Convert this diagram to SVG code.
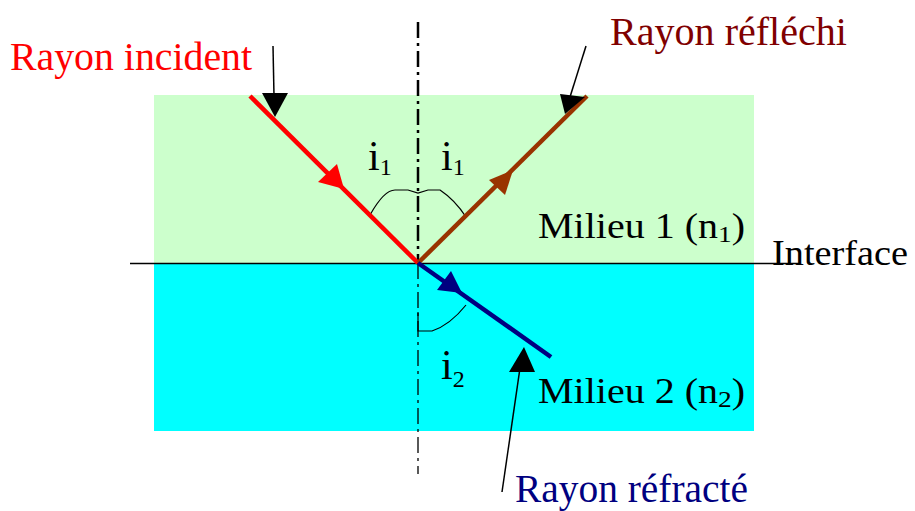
<svg xmlns="http://www.w3.org/2000/svg" width="915" height="511" viewBox="0 0 915 511">
<style>
text{font-family:"Liberation Serif","Times New Roman",serif;}
.lbl{font-size:35px;}
.ray{font-size:39px;}
.ang{font-size:42px;fill:#000;}
.sub{font-size:24px;}
.ptr{stroke:#000;stroke-width:1.5;fill:none;}
.arc{stroke:#000;stroke-width:1.2;fill:none;}
</style>
<rect width="915" height="511" fill="#fff"/>
<g id="milieu1"><rect x="154" y="95" width="600" height="168" fill="#CCFFCC"/>
<text x="538" y="238" class="lbl" textLength="207" lengthAdjust="spacingAndGlyphs">Milieu 1 (n<tspan class="sub" dy="4">1</tspan><tspan dy="-4">)</tspan></text></g>
<g id="milieu2"><rect x="154" y="264" width="600" height="167" fill="#00FFFF"/>
<text x="538" y="403" class="lbl" textLength="207" lengthAdjust="spacingAndGlyphs">Milieu 2 (n<tspan class="sub" dy="4">2</tspan><tspan dy="-4">)</tspan></text></g>
<g id="interface"><line x1="130" y1="263.5" x2="800" y2="263.5" stroke="#000" stroke-width="1.5"/>
<text x="772" y="265" class="lbl" textLength="136" lengthAdjust="spacingAndGlyphs">Interface</text></g>
<g id="normale">
<line x1="418" y1="22" x2="418" y2="263" stroke="#000" stroke-width="2.5" stroke-dasharray="16,5,3,5"/>
<line x1="418" y1="263" x2="418" y2="474" stroke="#000" stroke-width="1.3" stroke-dasharray="16,5,3,5"/>
</g>
<g id="angles">
<path class="arc" d="M370,215 Q384,190 395,190 L408,190 L418,193 L428,190 L440,190 Q455,200 466,217"/>
<path class="arc" d="M418,312 L418,331 L432,331 Q450,325 466,305"/>
<text x="368" y="170" class="ang">i<tspan class="sub" dy="5">1</tspan></text>
<text x="441" y="170" class="ang">i<tspan class="sub" dy="5">1</tspan></text>
<text x="441" y="379" class="ang">i<tspan class="sub" dy="8">2</tspan></text>
</g>
<g id="connectors">
<g id="rayon-incident-ray">
<line x1="250" y1="96" x2="418" y2="263" stroke="#FF0000" stroke-width="4.5"/>
<polygon points="344,189 318,182 337,164" fill="#FF0000"/>
</g>
<g id="rayon-reflechi-ray">
<line x1="418" y1="263" x2="587" y2="96" stroke="#993300" stroke-width="4.5"/>
<polygon points="513,170 489,180 505,195" fill="#993300"/>
</g>
<g id="rayon-refracte-ray">
<line x1="418" y1="263" x2="551" y2="357" stroke="#000080" stroke-width="4.5"/>
<polygon points="462,293 437,290 451,271" fill="#000080"/>
</g>
<g id="pointers">
<line class="ptr" x1="273" y1="46" x2="274" y2="96"/>
<polygon points="275,117 262,93 288,93" fill="#000"/>
<line class="ptr" x1="586" y1="46" x2="570" y2="97"/>
<polygon points="565,114 560,94 585,97" fill="#000"/>
<line class="ptr" x1="502" y1="492" x2="520" y2="368"/>
<polygon points="524,347 509,372 535,372" fill="#000"/>
</g>
</g>
<g id="labels">
<text x="10" y="70" class="ray" fill="#FF0000" textLength="242" lengthAdjust="spacingAndGlyphs">Rayon incident</text>
<text x="610" y="45" class="ray" fill="#800000" textLength="237" lengthAdjust="spacingAndGlyphs">Rayon réfléchi</text>
<text x="515" y="502" class="ray" fill="#000080" textLength="233" lengthAdjust="spacingAndGlyphs">Rayon réfracté</text>
</g>
</svg>
